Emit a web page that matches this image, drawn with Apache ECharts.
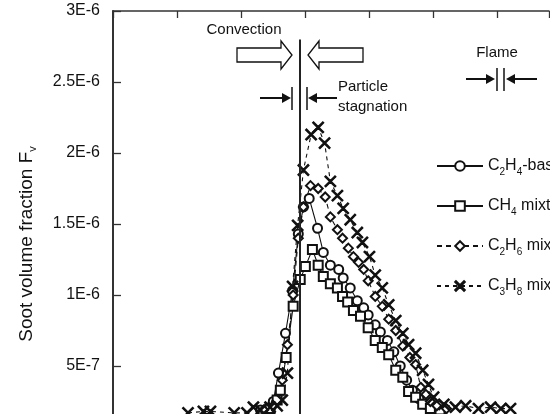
<!DOCTYPE html>
<html>
<head>
<meta charset="utf-8">
<script src="https://cdn.jsdelivr.net/npm/echarts@6.0.0/dist/echarts.min.js"></script>
<style>
  html, body { margin: 0; padding: 0; background: #fff; }
  #chart { width: 558px; height: 414px; }
</style>
</head>
<body>
<div id="chart"></div>
<script>
// values, soot volume fraction in units of 1E-6
const seriesNames = ["C2H4-base", "CH4 mixture", "C2H6 mixture", "C3H8 mixture"];

const c2h4X = [2.30, 2.45, 2.50, 2.58, 2.69, 2.80, 2.89, 2.97, 3.06, 3.19, 3.28, 3.39, 3.52, 3.59, 3.70, 3.81, 3.91, 3.98, 4.09, 4.17, 4.28, 4.38, 4.48, 4.58, 4.67, 4.77, 4.88, 5.00, 5.15];
const c2h4Y = [0.19, 0.21, 0.25, 0.45, 0.73, 1.03, 1.43, 1.62, 1.68, 1.47, 1.30, 1.21, 1.18, 1.12, 1.05, 0.96, 0.91, 0.86, 0.79, 0.74, 0.68, 0.60, 0.50, 0.40, 0.33, 0.27, 0.23, 0.21, 0.19];

const ch4X = [2.45, 2.56, 2.61, 2.70, 2.81, 2.92, 3.00, 3.11, 3.20, 3.28, 3.39, 3.50, 3.58, 3.66, 3.75, 3.86, 3.98, 4.09, 4.20, 4.30, 4.41, 4.52, 4.61, 4.72, 4.83, 4.95, 5.10];
const ch4Y = [0.20, 0.26, 0.33, 0.56, 0.92, 1.11, 1.20, 1.32, 1.21, 1.13, 1.08, 1.05, 0.99, 0.95, 0.89, 0.85, 0.77, 0.68, 0.63, 0.58, 0.47, 0.42, 0.32, 0.28, 0.23, 0.20, 0.19];

const c2h6X = [2.35, 2.50, 2.64, 2.72, 2.81, 2.89, 2.97, 3.08, 3.20, 3.31, 3.39, 3.50, 3.58, 3.67, 3.75, 3.83, 3.91, 3.98, 4.09, 4.20, 4.30, 4.41, 4.52, 4.63, 4.72, 4.80, 4.88, 4.95, 5.05, 5.20];
const c2h6Y = [0.19, 0.22, 0.40, 0.65, 1.00, 1.40, 1.62, 1.77, 1.75, 1.69, 1.55, 1.46, 1.40, 1.33, 1.27, 1.23, 1.18, 1.10, 0.99, 0.92, 0.83, 0.75, 0.64, 0.56, 0.51, 0.35, 0.30, 0.25, 0.22, 0.20];

const c3h8X = [1.17, 1.41, 1.52, 1.89, 2.09, 2.19, 2.30, 2.45, 2.56, 2.64, 2.72, 2.80, 2.88, 2.97, 3.09, 3.20, 3.30, 3.39, 3.50, 3.59, 3.70, 3.81, 3.89, 4.00, 4.09, 4.20, 4.30, 4.41, 4.52, 4.61, 4.72, 4.83, 4.92, 5.00, 5.16, 5.34, 5.50, 5.70, 5.89, 6.05, 6.20];
const c3h8Y = [0.17, 0.18, 0.18, 0.17, 0.17, 0.21, 0.19, 0.21, 0.22, 0.26, 0.45, 1.06, 1.49, 1.88, 2.13, 2.18, 2.07, 1.80, 1.70, 1.61, 1.53, 1.44, 1.37, 1.27, 1.14, 1.05, 0.93, 0.82, 0.73, 0.65, 0.59, 0.47, 0.37, 0.28, 0.23, 0.21, 0.22, 0.20, 0.21, 0.20, 0.20];

// stagnation plane: x position, from y to y (1E-6)
const stagnationX = 2.91;
const stagnationY = [0, 2.80];

const yTickLabels = ["0", "5E-7", "1E-6", "1.5E-6", "2E-6", "2.5E-6", "3E-6"];

const INK = "#111";
const AXIS = "#333";
const FONT = "Liberation Sans, Arial, sans-serif";

function pairs(xs, ys) {
  return xs.map((x, i) => [x, ys[i] * 1e-6]);
}

const crossSymbol = "path://M0,0.8L0.8,0L5,4.2L9.2,0L10,0.8L5.8,5L10,9.2L9.2,10L5,5.8L0.8,10L0,9.2L4.2,5Z";

function lineSeries(name, data, symbol, size, dash) {
  return {
    name: name,
    type: "line",
    data: data,
    symbol: symbol,
    symbolSize: size,
    showAllSymbol: true,
    z: 3,
    lineStyle: { color: INK, width: 1.1, type: dash },
    itemStyle: { color: INK, borderColor: INK, borderWidth: 1.3 },
    emphasis: { disabled: true }
  };
}

// annotation helpers
function hollowArrow(pts) {
  return { type: "polygon", shape: { points: pts }, style: { fill: "#fff", stroke: INK, lineWidth: 1.3 } };
}
function seg(x1, y1, x2, y2, w) {
  return { type: "line", shape: { x1: x1, y1: y1, x2: x2, y2: y2 }, style: { stroke: INK, lineWidth: w || 2 } };
}
function head(pts) {
  return { type: "polygon", shape: { points: pts }, style: { fill: INK } };
}
function label(text, x, y, align) {
  return {
    type: "text", x: x, y: y,
    style: { text: text, font: "15px " + FONT, fill: INK, align: align || "left", verticalAlign: "middle" }
  };
}

const chart = echarts.init(document.getElementById("chart"));

const series = [
  lineSeries(seriesNames[0], pairs(c2h4X, c2h4Y), "emptyCircle", 9, "solid"),
  lineSeries(seriesNames[1], pairs(ch4X, ch4Y), "emptyRect", 9, "solid"),
  lineSeries(seriesNames[2], pairs(c2h6X, c2h6Y), "emptyDiamond", 9, [5, 4]),
  lineSeries(seriesNames[3], pairs(c3h8X, c3h8Y), crossSymbol, 11, [4, 4])
];
series[0].markLine = {
  silent: true,
  symbol: ["none", "none"],
  label: { show: false },
  lineStyle: { type: "solid", color: "#222", width: 2 },
  data: [[
    { coord: [stagnationX, stagnationY[0] * 1e-6] },
    { coord: [stagnationX, stagnationY[1] * 1e-6] }
  ]]
};

chart.setOption({
  animation: false,
  backgroundColor: "#fff",
  grid: { left: 113, top: 11, right: 9, height: 426, outerBoundsMode: "none", containLabel: false },
  xAxis: [
    {
      type: "value", min: 0, max: 6.8, interval: 1, position: "bottom",
      axisLine: { show: true, lineStyle: { color: AXIS, width: 1.5 } },
      axisTick: { show: true, inside: true },
      axisLabel: { show: false },
      splitLine: { show: false }
    },
    {
      type: "value", min: 0, max: 6.8, interval: 1, position: "top",
      axisLine: { show: true, lineStyle: { color: AXIS, width: 1.5 } },
      axisTick: { show: true, inside: true, length: 7, lineStyle: { color: AXIS, width: 1.3 } },
      axisLabel: { show: false },
      splitLine: { show: false }
    }
  ],
  yAxis: {
    type: "value", min: 0, max: 3e-6, interval: 5e-7,
    axisLine: { show: true, lineStyle: { color: AXIS, width: 2 } },
    axisTick: { show: true, inside: true, length: 8, lineStyle: { color: AXIS, width: 1.3 } },
    axisLabel: {
      margin: 13, color: INK, fontSize: 16, fontFamily: FONT,
      formatter: (v, i) => yTickLabels[i]
    },
    splitLine: { show: false }
  },
  legend: {
    orient: "vertical",
    left: 436, top: 158,
    itemWidth: 46, itemHeight: 12, itemGap: 21,
    padding: 0,
    data: seriesNames,
    textStyle: {
      color: INK, fontSize: 16, fontFamily: FONT,
      rich: { s: { fontSize: 10, fontFamily: FONT, color: INK, padding: [12, 0, 0, 0] } }
    },
    formatter: name => name.replace(/([A-Z])(\d)/g, "$1{s|$2}")
  },
  series: series,
  graphic: [
    {
      type: "text", x: 27, y: 244, rotation: Math.PI / 2,
      style: {
        text: "Soot volume fraction F{s|v}",
        font: "19px " + FONT, fill: INK, align: "center", verticalAlign: "middle",
        rich: { s: { fontSize: 11, fontFamily: FONT, fill: INK, padding: [12, 0, 0, 0] } }
      }
    },
    label("Convection", 244, 30, "center"),
    hollowArrow([[237, 48], [281, 48], [281, 41], [292, 55], [281, 69], [281, 62], [237, 62]]),
    hollowArrow([[363, 48], [319, 48], [319, 41], [308, 55], [319, 69], [319, 62], [363, 62]]),
    seg(260, 98, 284, 98),
    head([[282, 93], [291, 98], [282, 103]]),
    seg(292, 87, 292, 110, 1.5),
    seg(307, 87, 307, 110, 1.5),
    head([[317, 93], [308, 98], [317, 103]]),
    seg(316, 98, 337, 98),
    label("Particle", 338, 87),
    label("stagnation", 338, 107),
    label("Flame", 497, 53, "center"),
    seg(466, 79, 488, 79),
    head([[486, 74], [495, 79], [486, 84]]),
    seg(497, 68, 497, 91, 1.5),
    seg(504, 68, 504, 91, 1.5),
    head([[515, 74], [506, 79], [515, 84]]),
    seg(514, 79, 537, 79),
    { type: "rect", z: 100, shape: { x: 550, y: 0, width: 8, height: 414 }, style: { fill: "#fff" } }
  ]
});
</script>
</body>
</html>
